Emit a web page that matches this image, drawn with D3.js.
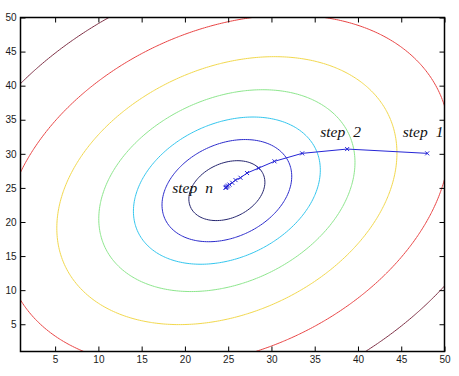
<!DOCTYPE html>
<html><head><meta charset="utf-8">
<script src="https://cdn.jsdelivr.net/npm/d3@7"></script>
<style>html,body{margin:0;padding:0;background:#fff;} svg{display:block;}</style>
</head><body>
<svg id="chart" width="459" height="376"></svg>
<script>
// ---------- data ----------
const xTickValues = [5, 10, 15, 20, 25, 30, 35, 40, 45, 50];
const xTickLabels = ["5", "10", "15", "20", "25", "30", "35", "40", "45", "50"];
const yTickValues = [5, 10, 15, 20, 25, 30, 35, 40, 45, 50];
const yTickLabels = ["5", "10", "15", "20", "25", "30", "35", "40", "45", "50"];
const axisDomain = [1, 50];

// cost surface: f = a*dx^2 + 2*b*dx*dy + c*dy^2 around its minimum
const bowlCenter = [24.85, 24.6];
const bowlCoef = [1, -0.28, 1];
const contourLevels = [17.8, 51.8, 107.5, 202, 356, 612, 1025];

// gradient descent iterates
const pathX = [48.0, 38.75, 33.55, 30.35, 28.5, 27.18, 26.42, 25.85, 25.47, 25.15, 24.98, 24.86, 24.79, 24.73, 24.70];
const pathY = [30.07, 30.7, 30.07, 28.9, 27.9, 27.18, 26.49, 26.15, 25.75, 25.49, 25.34, 25.22, 25.12, 25.04, 25.0];

// annotations
const stepWords = ["step", "step", "step"];
const stepIds = ["1", "2", "n"];
const stepAtX = [45.18, 35.64, 18.53];
const stepAtY = [32.5, 32.5, 24.2];

// ---------- styles ----------
const contourColors = ["#24246e", "#2b2bcc", "#33c6ee", "#8ce68c", "#f2d84c", "#e84444", "#7d2e44"];
const pathColor = "#2626d6";

// ---------- chart ----------
const svg = d3.select("#chart");
const W = 459, H = 376;
const plot = {left: 20.5, right: 444.5, top: 17.5, bottom: 351.5};

const x = d3.scaleLinear().domain(axisDomain).range([plot.left, plot.right]);
const y = d3.scaleLinear().domain(axisDomain).range([plot.bottom, plot.top]);

svg.append("rect").attr("width", W).attr("height", H).attr("fill", "#fff");

svg.append("defs").append("clipPath").attr("id", "clip")
  .append("rect").attr("x", plot.left).attr("y", plot.top)
  .attr("width", plot.right - plot.left).attr("height", plot.bottom - plot.top);

// contours via d3.contours on a grid that extends past the axes
const [a, b, c] = bowlCoef;
const bowl = (px, py) => {
  const dx = px - bowlCenter[0], dy = py - bowlCenter[1];
  return a * dx * dx + 2 * b * dx * dy + c * dy * dy;
};
const g0 = -20, gStep = 0.25, n = 361;
const vals = new Float64Array(n * n);
for (let j = 0; j < n; j++) for (let i = 0; i < n; i++) {
  vals[j * n + i] = -bowl(g0 + i * gStep, g0 + j * gStep);
}
const contours = d3.contours().size([n, n]).thresholds(contourLevels.map(l => -l))(vals);
const proj = d3.geoTransform({
  point(px, py) { this.stream.point(x(g0 + (px - 0.5) * gStep), y(g0 + (py - 0.5) * gStep)); }
});
const geo = d3.geoPath(proj);

const color = d3.scaleOrdinal().domain(contourLevels).range(contourColors);

svg.append("g").attr("clip-path", "url(#clip)")
  .selectAll("path").data(contours).join("path")
  .attr("d", geo)
  .attr("fill", "none")
  .attr("stroke", d => color(-d.value))
  .attr("stroke-width", 1);

// descent path
const pts = pathX.map((v, i) => [v, pathY[i]]);
const gPath = svg.append("g").attr("clip-path", "url(#clip)");
gPath.append("path")
  .attr("d", d3.line().x(d => x(d[0])).y(d => y(d[1]))(pts))
  .attr("fill", "none").attr("stroke", pathColor).attr("stroke-width", 1);
const ms = 2;
gPath.selectAll("path.mk").data(pts).join("path").attr("class", "mk")
  .attr("d", d => {
    const px = x(d[0]), py = y(d[1]);
    return `M${px - ms},${py - ms}L${px + ms},${py + ms}M${px - ms},${py + ms}L${px + ms},${py - ms}`;
  })
  .attr("stroke", pathColor).attr("stroke-width", 1).attr("fill", "none");

// labels
const lab = svg.append("g")
  .attr("font-family", "'Liberation Serif','Times New Roman',serif")
  .attr("font-style", "italic").attr("font-size", 15.5).attr("fill", "#111");
stepWords.forEach((w, i) => {
  const t = lab.append("text").attr("x", x(stepAtX[i])).attr("y", y(stepAtY[i]));
  t.append("tspan").text(w);
  t.append("tspan").attr("dx", 8).text(stepIds[i]);
});

// axes
const axFont = "'Liberation Sans',Arial,sans-serif";
const styleAxis = g => {
  g.select(".domain").remove();
  g.selectAll(".tick line").attr("stroke", "#000").attr("stroke-width", 1);
  g.selectAll(".tick text").attr("fill", "#1a1a1a").attr("font-family", axFont).attr("font-size", 10);
};
svg.append("g").attr("transform", `translate(0,${plot.bottom})`)
  .call(d3.axisBottom(x).tickValues(xTickValues).tickFormat((d, i) => xTickLabels[i])
    .tickSizeInner(-5).tickSizeOuter(0).tickPadding(4)).call(styleAxis);
svg.append("g").attr("transform", `translate(0,${plot.top})`)
  .call(d3.axisTop(x).tickValues(xTickValues).tickFormat("")
    .tickSizeInner(-5).tickSizeOuter(0)).call(styleAxis);
svg.append("g").attr("transform", `translate(${plot.left},0)`)
  .call(d3.axisLeft(y).tickValues(yTickValues).tickFormat((d, i) => yTickLabels[i])
    .tickSizeInner(-5).tickSizeOuter(0).tickPadding(4)).call(styleAxis);
svg.append("g").attr("transform", `translate(${plot.right},0)`)
  .call(d3.axisRight(y).tickValues(yTickValues).tickFormat("")
    .tickSizeInner(-5).tickSizeOuter(0)).call(styleAxis);

svg.append("rect")
  .attr("x", plot.left).attr("y", plot.top)
  .attr("width", plot.right - plot.left).attr("height", plot.bottom - plot.top)
  .attr("fill", "none").attr("stroke", "#000").attr("stroke-width", 1.5);
</script>
</body></html>
